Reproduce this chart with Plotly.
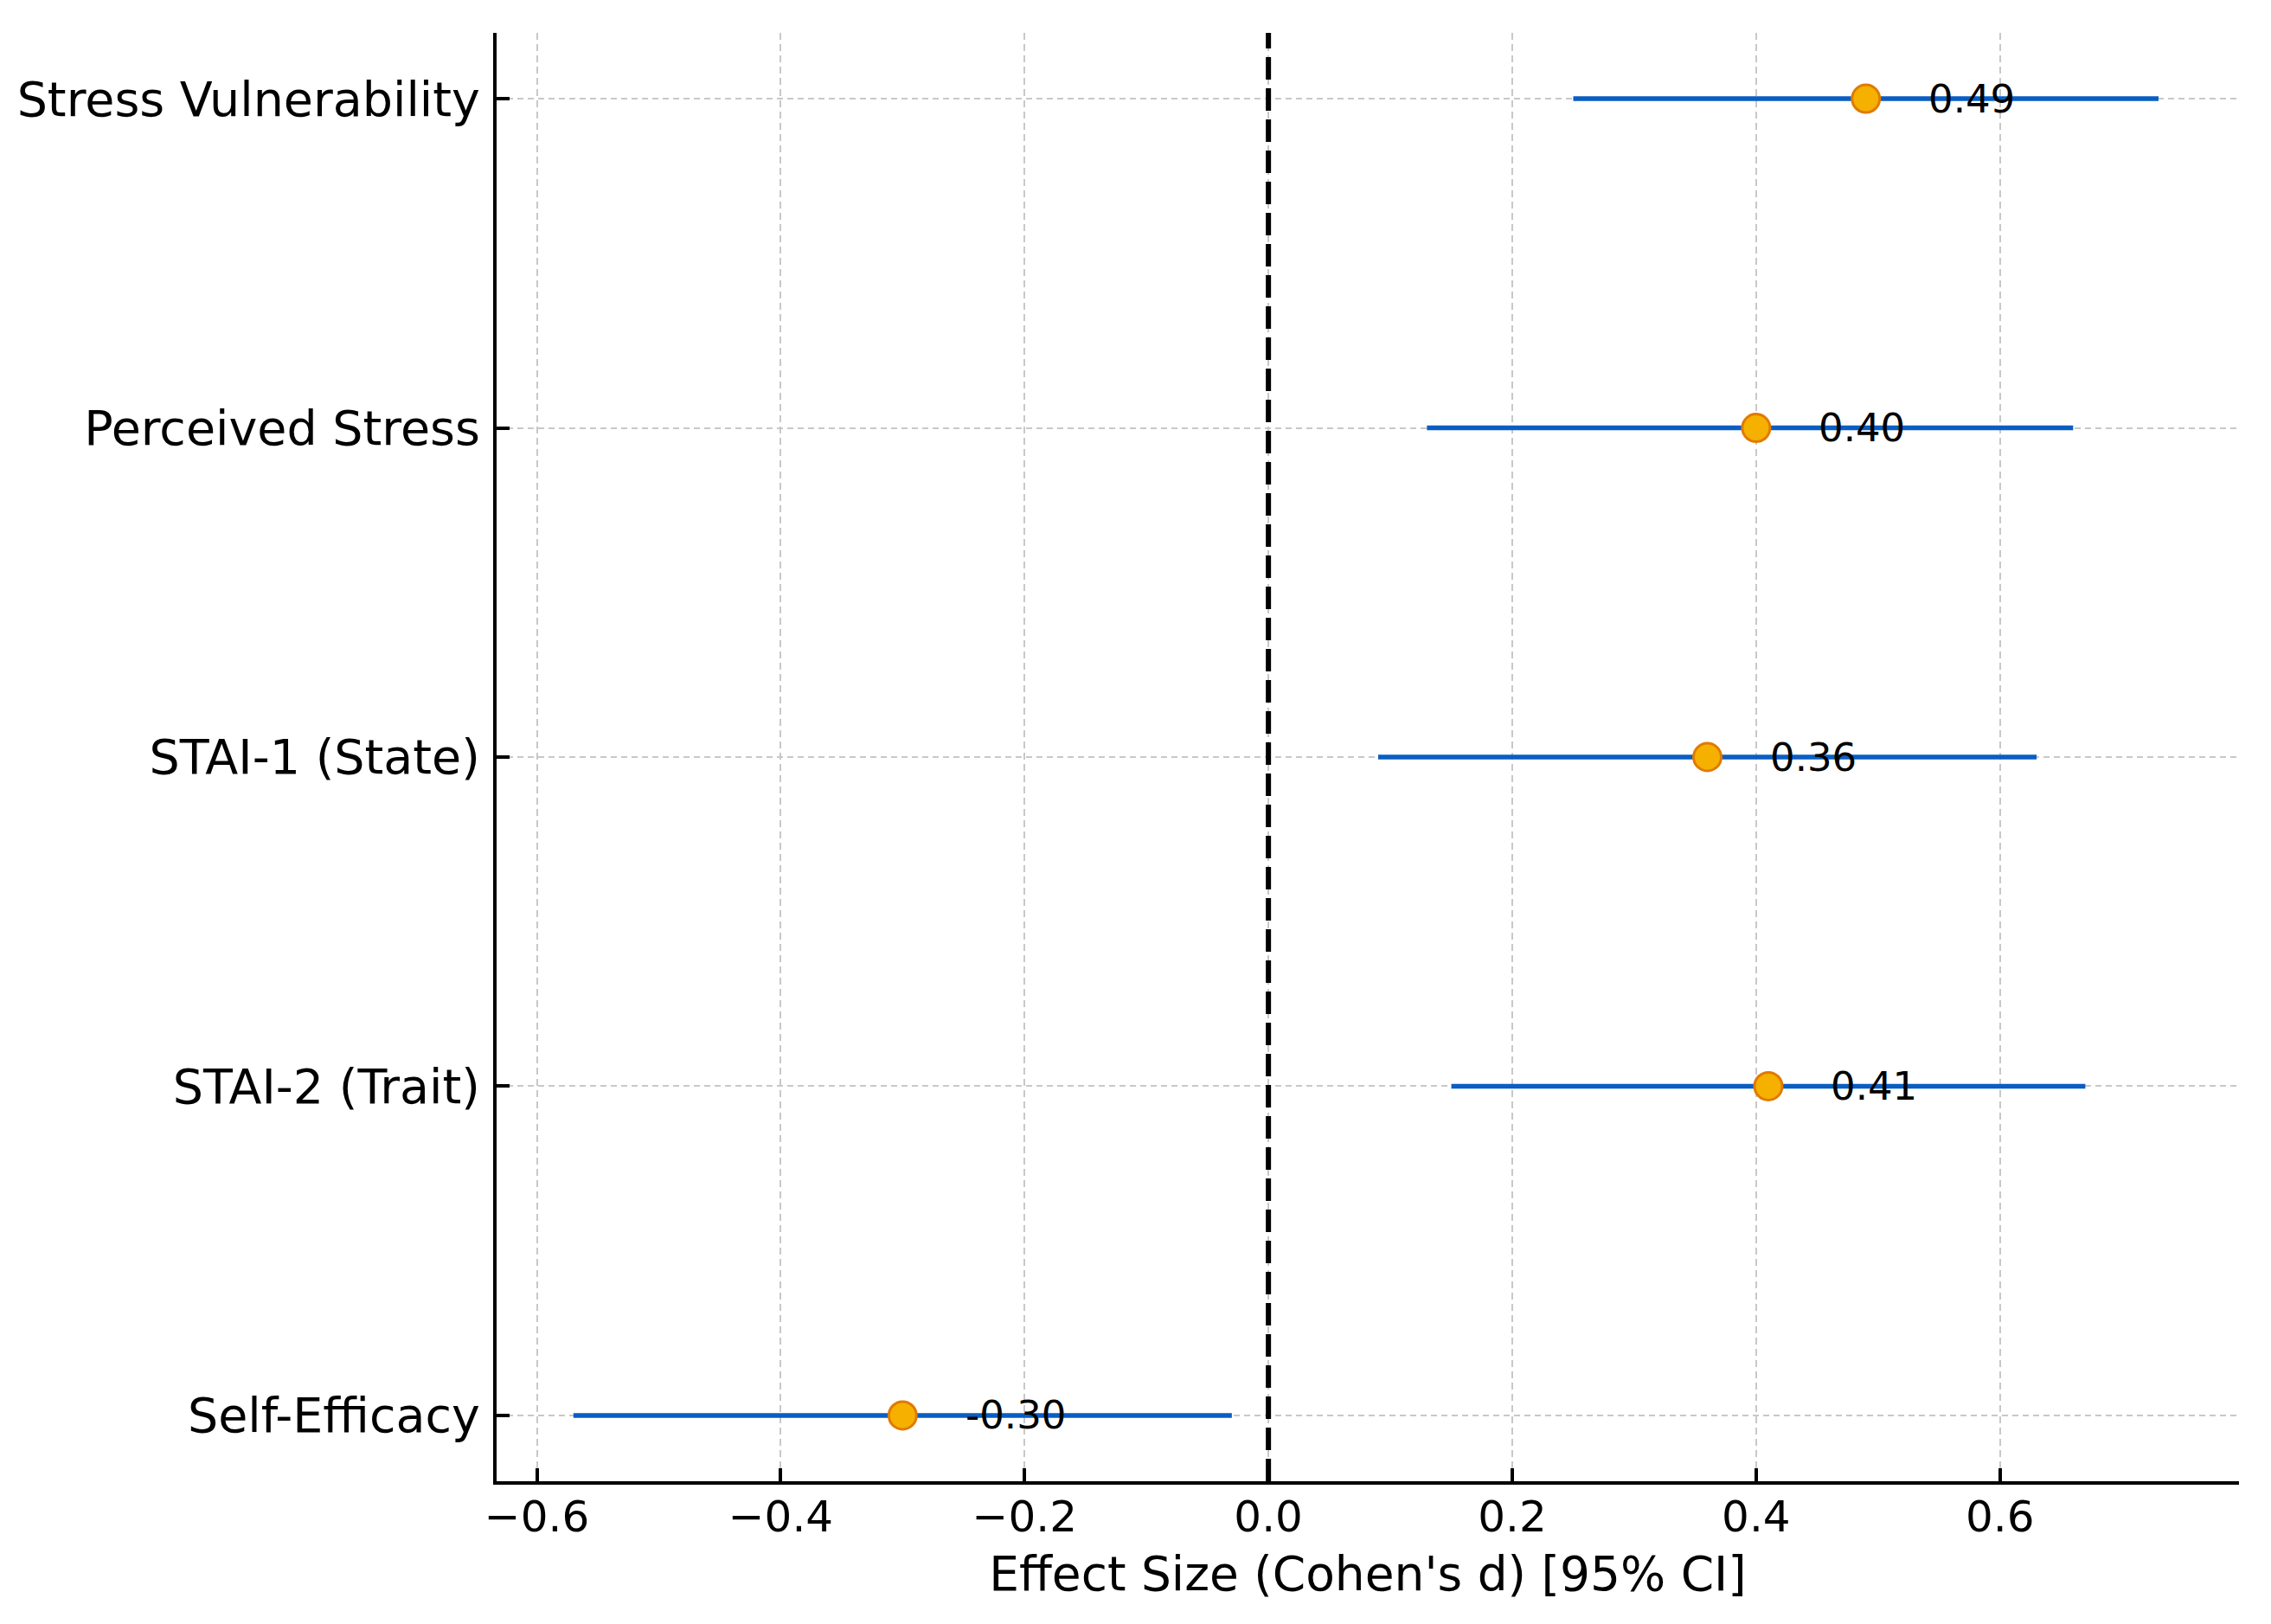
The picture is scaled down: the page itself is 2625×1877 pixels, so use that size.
import plotly.graph_objects as go

# ---- data ----
outcomes = ["Stress Vulnerability", "Perceived Stress", "STAI-1 (State)", "STAI-2 (Trait)", "Self-Efficacy"]
effect_d = [0.49, 0.40, 0.36, 0.41, -0.30]
ci_lower = [0.25, 0.13, 0.09, 0.15, -0.57]
ci_upper = [0.73, 0.66, 0.63, 0.67, -0.03]
x_ticks = [-0.6, -0.4, -0.2, 0.0, 0.2, 0.4, 0.6]
x_tick_labels = ["\u22120.6", "\u22120.4", "\u22120.2", "0.0", "0.2", "0.4", "0.6"]
label_offset = 0.05

FONT = "DejaVu Sans"

err_plus = [u - d for u, d in zip(ci_upper, effect_d)]
err_minus = [d - l for d, l in zip(effect_d, ci_lower)]

fig = go.Figure()
fig.add_trace(go.Scatter(
    x=effect_d, y=outcomes, mode="markers",
    marker=dict(size=32, color="#F5B000", line=dict(color="#E07A00", width=3)),
    error_x=dict(type="data", symmetric=False, array=err_plus, arrayminus=err_minus,
                 color="#0A5EC2", thickness=5.5, width=0),
    showlegend=False, hoverinfo="skip",
))

fig.add_vline(x=0, line=dict(color="black", width=6, dash="26px,10px"), layer="above")

for name, d in zip(outcomes, effect_d):
    fig.add_annotation(x=d + label_offset, y=name, text=f"{d:.2f}", showarrow=False,
                       xanchor="left", yanchor="middle",
                       font=dict(family=FONT, size=45, color="black"))

fig.update_layout(
    width=2625, height=1877,
    margin=dict(l=566, r=45, t=30, b=173),
    plot_bgcolor="white", paper_bgcolor="white",
    font=dict(family=FONT, color="black"),
)
fig.update_xaxes(
    range=[-0.633, 0.796], tickvals=x_ticks, ticktext=x_tick_labels,
    tickfont=dict(size=50), ticks="inside", ticklen=15, tickwidth=4, tickcolor="black",
    showline=True, linewidth=4, linecolor="black",
    showgrid=True, gridcolor="#c8c8c8", gridwidth=2, griddash="8px,5px",
    zeroline=False, ticklabelstandoff=-6,
    title=dict(text="Effect Size (Cohen's d) [95% CI]", font=dict(size=55), standoff=19),
)
fig.update_yaxes(
    type="category", categoryorder="array", categoryarray=outcomes[::-1],
    range=[-0.2, 4.2], tickfont=dict(size=55.5),
    ticks="inside", ticklen=15, tickwidth=4, tickcolor="black",
    showline=True, linewidth=4, linecolor="black",
    showgrid=True, gridcolor="#c8c8c8", gridwidth=2, griddash="7px,5px",
    zeroline=False, ticklabelstandoff=4,
)

fig.write_html("out.html")
